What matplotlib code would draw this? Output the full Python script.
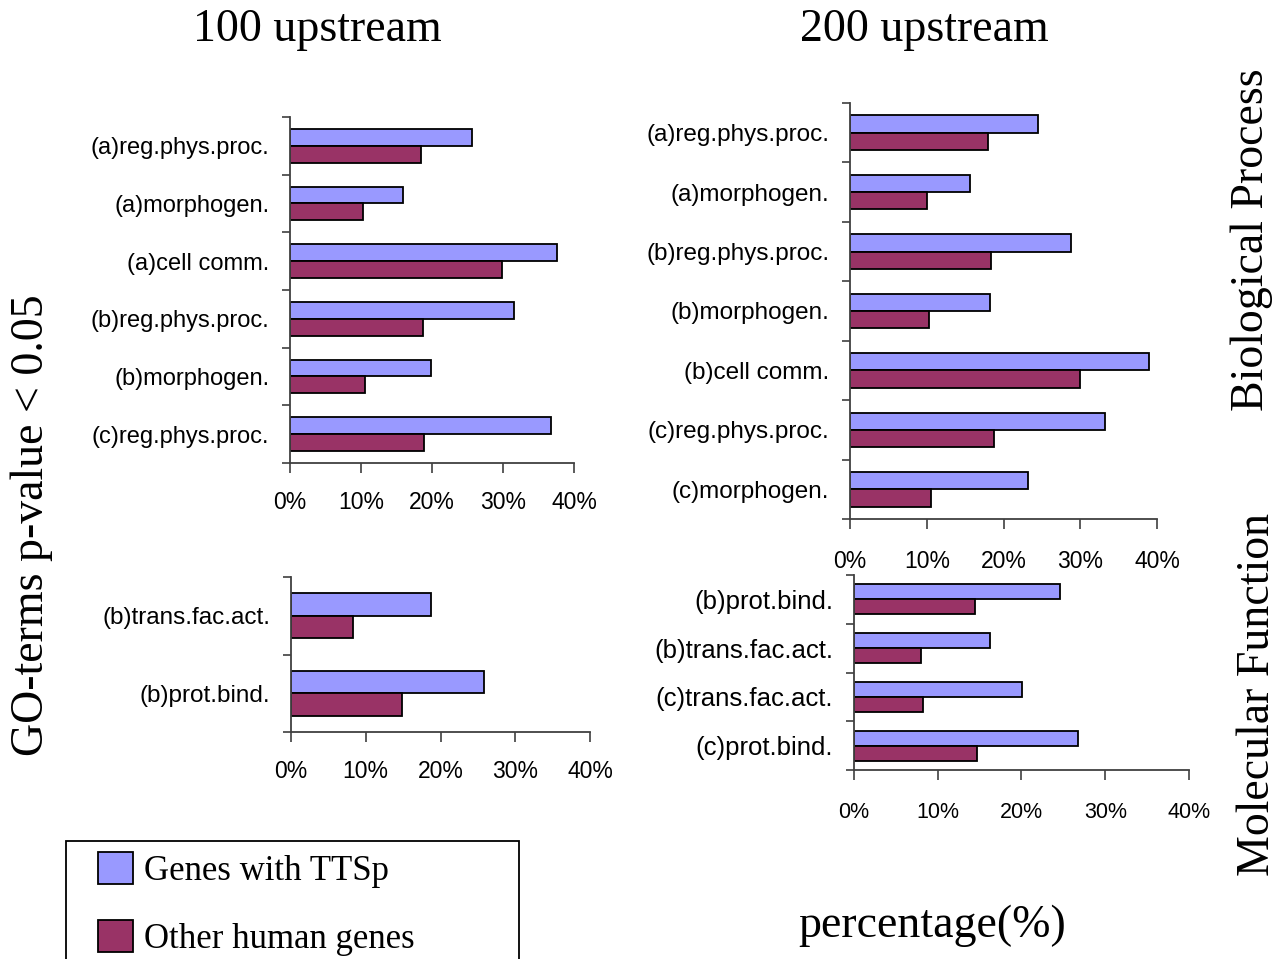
import matplotlib
matplotlib.use("Agg")
import matplotlib.pyplot as plt
import matplotlib.font_manager as fm
from matplotlib.patches import Patch, Rectangle
from matplotlib.ticker import PercentFormatter, FixedLocator, NullFormatter

# ---- data (percent of genes) ----
bp100_labels = ["(a)reg.phys.proc.", "(a)morphogen.", "(a)cell comm.",
                "(b)reg.phys.proc.", "(b)morphogen.", "(c)reg.phys.proc."]
bp100_ttsp = [25.6, 15.9, 37.6, 31.6, 19.8, 36.8]
bp100_other = [18.5, 10.3, 29.9, 18.7, 10.6, 18.9]

mf100_labels = ["(b)trans.fac.act.", "(b)prot.bind."]
mf100_ttsp = [18.7, 25.8]
mf100_other = [8.3, 14.9]

bp200_labels = ["(a)reg.phys.proc.", "(a)morphogen.", "(b)reg.phys.proc.",
                "(b)morphogen.", "(b)cell comm.", "(c)reg.phys.proc.",
                "(c)morphogen."]
bp200_ttsp = [24.5, 15.6, 28.8, 18.2, 39.0, 33.2, 23.2]
bp200_other = [18.0, 10.0, 18.4, 10.3, 30.0, 18.8, 10.6]

mf200_labels = ["(b)prot.bind.", "(b)trans.fac.act.", "(c)trans.fac.act.",
                "(c)prot.bind."]
mf200_ttsp = [24.6, 16.2, 20.1, 26.8]
mf200_other = [14.5, 8.0, 8.2, 14.7]

xticks = [0, 10, 20, 30, 40]

BLUE = "#9999FF"
RED = "#993366"
SANS = "Liberation Sans"
SERIF = "Liberation Serif"
names = {f.name for f in fm.fontManager.ttflist}
NARROW = "Liberation Sans Narrow" if "Liberation Sans Narrow" in names else SANS

W, H = 1288, 959
fig = plt.figure(figsize=(W / 100, H / 100), dpi=100)


def px_axes(left, top, right, bottom):
    return fig.add_axes([left / W, 1 - bottom / H, (right - left) / W, (bottom - top) / H])


def hbar_panel(ax, labels, ttsp, other, height=0.29, lab_size=17, lab_font=SANS,
               tick_size=16.5, tick_pad=13):
    n = len(labels)
    y = list(range(n))
    ax.barh([v - height / 2 for v in y], ttsp, height=height, color=BLUE,
            edgecolor="black", linewidth=1.3)
    ax.barh([v + height / 2 for v in y], other, height=height, color=RED,
            edgecolor="black", linewidth=1.3)
    ax.set_ylim(n - 0.5, -0.5)
    ax.set_xlim(0, 40)
    for s in ["top", "right"]:
        ax.spines[s].set_visible(False)
    for s in ["left", "bottom"]:
        ax.spines[s].set_color("#404040")
        ax.spines[s].set_linewidth(1.3)
    # tick marks at category boundaries, labels at centres
    ax.yaxis.set_major_locator(FixedLocator([k - 0.5 for k in range(n + 1)]))
    ax.yaxis.set_major_formatter(NullFormatter())
    ax.yaxis.set_minor_locator(FixedLocator(y))
    ax.set_yticklabels(labels, minor=True, fontsize=lab_size, family=lab_font)
    ax.tick_params(axis="y", which="major", direction="out", length=6, width=1.2, color="#404040")
    ax.tick_params(axis="y", which="minor", length=0, pad=15)
    ax.set_xticks(xticks)
    ax.xaxis.set_major_formatter(PercentFormatter(xmax=100, decimals=0))
    ax.tick_params(axis="x", direction="out", length=7, width=1.2, color="#404040",
                   pad=tick_pad, labelsize=tick_size)
    for t in ax.get_xticklabels():
        t.set_family(SANS)


ax_tl = px_axes(290, 117, 574, 463)
hbar_panel(ax_tl, bp100_labels, bp100_ttsp, bp100_other)

ax_bl = px_axes(291, 577, 590, 732)
hbar_panel(ax_bl, mf100_labels, mf100_ttsp, mf100_other, lab_size=17.5)

ax_tr = px_axes(850, 103, 1157, 519)
hbar_panel(ax_tr, bp200_labels, bp200_ttsp, bp200_other, lab_size=17.5, tick_pad=15)

ax_br = px_axes(854, 575, 1189, 770)
hbar_panel(ax_br, mf200_labels, mf200_ttsp, mf200_other, height=0.31,
           lab_size=22 if NARROW != SANS else 18.5, lab_font=NARROW,
           tick_size=15.5, tick_pad=16)

# ---- titles and side labels ----
fig.text(317 / W, 1 - 30 / H, "100 upstream", family=SERIF, fontsize=33, ha="center", va="center")
fig.text(924 / W, 1 - 30 / H, "200 upstream", family=SERIF, fontsize=33, ha="center", va="center")
fig.text(32 / W, 1 - 525 / H, "GO-terms p-value < 0.05", family=SERIF, fontsize=33,
         rotation=90, ha="center", va="center")
fig.text(1252 / W, 1 - 240 / H, "Biological Process", family=SERIF, fontsize=33,
         rotation=90, ha="center", va="center")
fig.text(1258 / W, 1 - 694 / H, "Molecular Function", family=SERIF, fontsize=33,
         rotation=90, ha="center", va="center")
fig.text(932 / W, 1 - 926 / H, "percentage(%)", family=SERIF, fontsize=33, ha="center", va="center")

# ---- legend (frame drawn separately so it can run off the bottom edge) ----
fig.patches.append(Rectangle((66 / W, -0.05), 453 / W, 1 - 841 / H + 0.05,
                             transform=fig.transFigure, facecolor="white",
                             edgecolor="black", linewidth=1.3, zorder=0))
handles = [Patch(facecolor=BLUE, edgecolor="black", linewidth=1.3),
           Patch(facecolor=RED, edgecolor="black", linewidth=1.3)]
leg = fig.legend(handles, ["Genes with TTSp", "Other human genes"],
                 loc="upper left", bbox_to_anchor=(98 / W, 1 - 852 / H),
                 prop={"family": SERIF, "size": 25},
                 handlelength=1.0, handleheight=1.05, handletextpad=0.32,
                 labelspacing=0.92, borderpad=0, borderaxespad=0, frameon=False)

fig.savefig("out.png", dpi=100)
